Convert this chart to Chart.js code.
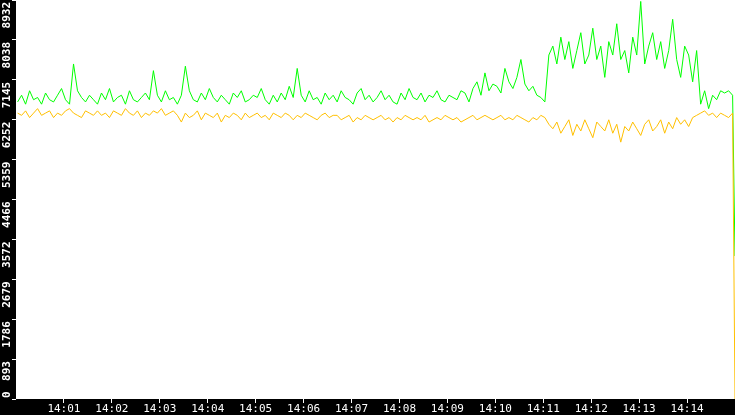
<!DOCTYPE html>
<html><head><meta charset="utf-8">
<script src="https://cdn.jsdelivr.net/npm/chart.js@4"></script>
<style>html,body{margin:0;padding:0;background:#000}#c{display:block}</style>
</head><body>
<div style="width:735px;height:415px"><canvas id="c"></canvas></div>
<script>
const stepSeconds = 5;
const xTickLabels = ['14:01','14:02','14:03','14:04','14:05','14:06','14:07','14:08','14:09','14:10','14:11','14:12','14:13','14:14'];
const yTickLabels = ['0','893','1786','2679','3572','4466','5359','6252','7145','8038','8932'];
const greenValues = [
6650,6800,6600,6900,6700,6750,6600,6850,6700,6650,6800,6950,6700,6600,7500,6900,6750,6650,6800,6700,
6600,6850,6700,6950,6650,6750,6800,6600,6900,6700,6650,6750,6850,6700,7350,6800,6650,6900,6700,6750,
6600,6800,7450,6900,6700,6650,6850,6700,6950,6750,6650,6800,6700,6600,6850,6750,6900,6650,6700,6800,
6750,6950,6700,6600,6800,6650,6850,6700,7000,6750,7400,6800,6650,6900,6700,6750,6600,6850,6700,6800,
6650,6900,6750,6700,6600,6850,6950,6700,6800,6650,6750,6900,6700,6800,6650,6600,6850,6700,6950,6750,
6700,6850,6650,6800,6750,6900,6700,6650,6800,6750,6700,6900,6850,6650,6950,7100,6800,7300,6900,7050,
7000,6850,7400,7100,6950,7200,7600,7050,6900,7000,6800,6750,6650,7700,7900,7500,8100,7600,8000,7400,
7800,8200,7500,7700,8300,7600,7900,7200,8000,7700,8400,7600,7800,7300,8100,7700,8900,7500,7900,8200,
7600,8000,7400,7800,8500,7600,7200,7900,7700,7100,7800,6600,6900,6500,6800,6700,6900,6850,6900,6800,
3200];
const yellowValues = [
6400,6350,6450,6300,6400,6500,6350,6400,6450,6300,6400,6350,6450,6500,6400,6350,6300,6450,6400,6350,
6450,6350,6400,6300,6450,6400,6350,6500,6400,6350,6450,6300,6400,6350,6450,6400,6500,6350,6400,6450,
6350,6200,6400,6300,6350,6450,6250,6400,6350,6300,6400,6200,6350,6300,6400,6350,6250,6400,6300,6350,
6400,6300,6350,6250,6400,6350,6300,6400,6350,6250,6350,6300,6400,6350,6300,6250,6350,6400,6300,6350,
6350,6250,6300,6350,6200,6300,6250,6350,6300,6250,6300,6350,6250,6300,6200,6300,6250,6350,6300,6250,
6300,6250,6350,6200,6250,6300,6250,6350,6300,6250,6300,6200,6250,6300,6350,6250,6300,6350,6300,6250,
6300,6350,6250,6300,6250,6350,6300,6250,6200,6300,6250,6350,6300,6150,6050,6200,5950,6100,6250,5900,
6150,6000,6250,6050,5850,6200,6100,6000,6250,5950,6150,5750,6100,6000,6200,6050,5900,6150,6250,6000,
6100,6250,5950,6200,6050,6300,6150,6250,6100,6300,6350,6400,6450,6350,6400,6300,6400,6350,6300,6400,
0];
const toPts = vals => vals.map((v,i)=>({x: i===vals.length-1 ? 900 : i*stepSeconds+2, y:v}));
const bg = {id:'bg',beforeDraw(c){const g=c.ctx,a=c.chartArea;g.save();g.fillStyle='#000';g.fillRect(0,0,c.width,c.height);g.fillStyle='#fff';g.fillRect(a.left,a.top,a.right-a.left,a.bottom-a.top);g.restore();}};
const ylab = {id:'ylab',afterDraw(c){const g=c.ctx,s=c.scales.y;g.save();g.fillStyle='#fff';g.font='bold 11px "DejaVu Sans Mono"';g.textAlign='right';g.textBaseline='middle';
 yTickLabels.forEach((t,i)=>{let p=s.getPixelForValue(i*893.2)+2;let w=g.measureText(t).width;p=Math.min(p,s.bottom-w-1);g.save();g.translate(7,p);g.rotate(-Math.PI/2);g.fillText(t,0,0);g.restore();});g.restore();}};
new Chart(document.getElementById('c'),{type:'line',
 data:{datasets:[
  {data:toPts(yellowValues),borderColor:'#ffc000',borderWidth:1,pointRadius:0,tension:0},
  {data:toPts(greenValues),borderColor:'#00ff00',borderWidth:1,pointRadius:0,tension:0}]},
 options:{animation:false,responsive:true,maintainAspectRatio:false,plugins:{legend:{display:false},tooltip:{enabled:false}},
  layout:{padding:0},
  scales:{
   x:{type:'linear',min:0,max:900,afterFit(s){s.height=16;},
      afterBuildTicks(s){s.ticks=xTickLabels.map((t,i)=>({value:(i+1)*60}));},
      ticks:{color:'#fff',padding:0,maxRotation:0,font:{family:'DejaVu Sans Mono',size:11},callback:(v,i)=>xTickLabels[i]},
      grid:{drawOnChartArea:false,color:'#fff',tickLength:4},border:{display:false}},
   y:{min:0,max:8932,afterFit(s){s.width=16;},
      afterBuildTicks(s){s.ticks=yTickLabels.map((t,i)=>({value:i*893.2}));},
      ticks:{display:false},
      grid:{drawOnChartArea:false,color:'#fff',tickLength:4},border:{display:false}}
  }},
 plugins:[bg,ylab]});
</script></body></html>
